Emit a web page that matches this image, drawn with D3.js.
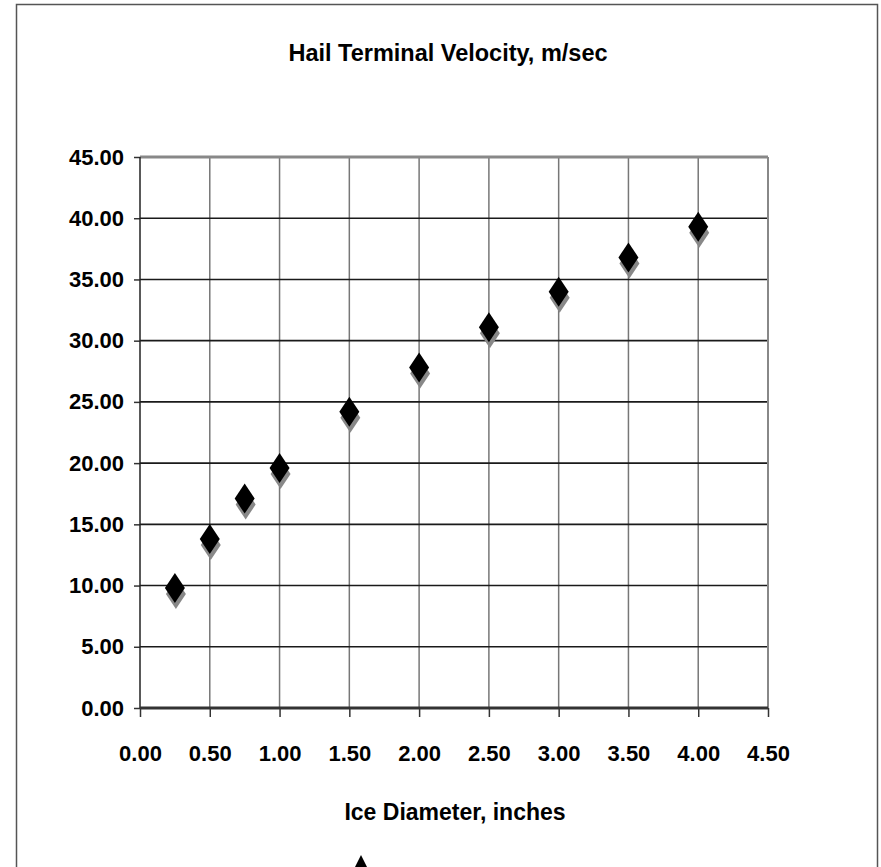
<!DOCTYPE html>
<html>
<head>
    <title>Hail Terminal Velocity</title>
    <script src="https://cdn.jsdelivr.net/npm/d3@7"></script>
    <style>
        body { margin: 0; background: #fff; }
        text { font-family: "Liberation Sans", Arial, sans-serif; font-weight: bold; fill: #000; }
    </style>
</head>
<body>
<script>
    // data
    const diameters = [0.25, 0.5, 0.75, 1.0, 1.5, 2.0, 2.5, 3.0, 3.5, 4.0];
    const velocities = [9.8, 13.8, 17.1, 19.6, 24.2, 27.8, 31.1, 34.0, 36.8, 39.3];
    const xTicks = [0, 0.5, 1, 1.5, 2, 2.5, 3, 3.5, 4, 4.5];
    const yTicks = [0, 5, 10, 15, 20, 25, 30, 35, 40, 45];

    const width = 881;
    const height = 867;
    const plotLeft = 140, plotRight = 768, plotTop = 157, plotBottom = 708;

    const svg = d3.select('body')
        .append('svg')
        .attr('width', width)
        .attr('height', height);

    // outer chart frame
    svg.append('rect')
        .attr('x', 16.5).attr('y', 4.5)
        .attr('width', 861).attr('height', 900)
        .attr('fill', 'none')
        .attr('stroke', '#555')
        .attr('stroke-width', 1.5);

    const x = d3.scaleLinear().domain([0, 4.5]).range([plotLeft, plotRight]);
    const y = d3.scaleLinear().domain([0, 45]).range([plotBottom, plotTop]);

    // vertical gridlines
    svg.append('g')
        .selectAll('line')
        .data(xTicks.slice(1, -1))
        .join('line')
        .attr('x1', d => x(d)).attr('x2', d => x(d))
        .attr('y1', plotTop).attr('y2', plotBottom)
        .attr('stroke', '#777')
        .attr('stroke-width', 1.5);

    // horizontal gridlines
    svg.append('g')
        .selectAll('line')
        .data(yTicks.slice(1, -1))
        .join('line')
        .attr('x1', plotLeft).attr('x2', plotRight)
        .attr('y1', d => y(d)).attr('y2', d => y(d))
        .attr('stroke', '#1a1a1a')
        .attr('stroke-width', 1.6);

    // top and right border of plot area
    svg.append('line')
        .attr('x1', plotLeft).attr('x2', plotRight)
        .attr('y1', y(45)).attr('y2', y(45))
        .attr('stroke', '#888').attr('stroke-width', 3);
    svg.append('line')
        .attr('x1', x(4.5)).attr('x2', x(4.5))
        .attr('y1', plotTop).attr('y2', plotBottom)
        .attr('stroke', '#888').attr('stroke-width', 2);

    // axes
    const yAxis = svg.append('g')
        .attr('transform', `translate(${plotLeft},0)`)
        .call(d3.axisLeft(y).tickValues(yTicks).tickFormat(d3.format('.2f')).tickSize(6).tickPadding(10));
    const xAxis = svg.append('g')
        .attr('transform', `translate(0,${plotBottom})`)
        .call(d3.axisBottom(x).tickValues(xTicks).tickFormat(d3.format('.2f')).tickSize(9).tickPadding(28));

    svg.selectAll('.domain').remove();
    yAxis.append('line')
        .attr('x1', 0).attr('x2', 0).attr('y1', plotTop).attr('y2', plotBottom)
        .attr('stroke', '#222').attr('stroke-width', 1.5);
    xAxis.append('line')
        .attr('x1', plotLeft).attr('x2', plotRight).attr('y1', 0).attr('y2', 0)
        .attr('stroke', '#333').attr('stroke-width', 3);

    svg.selectAll('.tick line').attr('stroke', '#333').attr('stroke-width', 1.5);
    svg.selectAll('.tick text')
        .style('font-family', '"Liberation Sans", Arial, sans-serif')
        .style('font-weight', 'bold')
        .style('font-size', '22px')
        .attr('fill', '#000');

    // diamond marker with gray shadow
    const diamond = 'M0,-15L10,0L0,15L-10,0Z';
    const pts = diameters.map((d, i) => ({ d: d, v: velocities[i] }));

    svg.append('g')
        .selectAll('path')
        .data(pts)
        .join('path')
        .attr('d', diamond)
        .attr('transform', p => `translate(${x(p.d) + 1},${y(p.v) + 6})`)
        .attr('fill', '#888');

    svg.append('g')
        .selectAll('path')
        .data(pts)
        .join('path')
        .attr('d', diamond)
        .attr('transform', p => `translate(${x(p.d)},${y(p.v)})`)
        .attr('fill', '#000');

    // titles
    svg.append('text')
        .attr('x', 448).attr('y', 61)
        .attr('text-anchor', 'middle')
        .style('font-size', '23.5px')
        .text('Hail Terminal Velocity, m/sec');

    svg.append('text')
        .attr('x', 455).attr('y', 820)
        .attr('text-anchor', 'middle')
        .style('font-size', '23px')
        .text('Ice Diameter, inches');

    // legend marker, cut off at the bottom edge
    svg.append('path')
        .attr('d', 'M0,-9L9,9L-9,9Z')
        .attr('transform', 'translate(361,864)')
        .attr('fill', '#000');
</script>
</body>
</html>
